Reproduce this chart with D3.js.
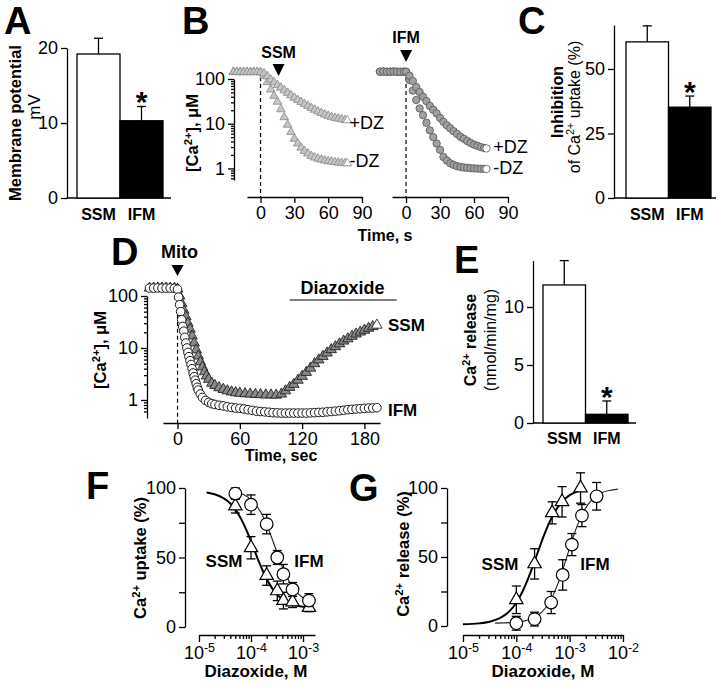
<!DOCTYPE html>
<html>
<head>
<meta charset="utf-8">
<script src="https://cdn.jsdelivr.net/npm/d3@7"></script>
<style>
html,body{margin:0;padding:0;background:#fff;}
svg{display:block;}
</style>
</head>
<body>
<svg id="fig" width="724" height="687"></svg>
<script>
// ================= DATA =================
const barCats = ["SSM", "IFM"];
const potentialMean = [19.2, 10.3];
const potentialErr = [2.1, 1.9];
const inhibitionMean = [60.5, 35.2];
const inhibitionErr = [6.2, 4.3];
const releaseMean = [11.9, 0.75];
const releaseErr = [2.1, 1.15];
const potentialTicks = [0, 10, 20];
const inhibitionTicks = [0, 25, 50];
const releaseTicks = [0, 5, 10];

// Panel B (time in s, [Ca2+] in uM)
const bTimeSSM = [-24,-21,-18,-15,-12,-9,-6,-3,0,3,6,9,12,15,18,21,24,27,30,33,36,39,42,45,48,51,54,57,60,63,66,69,72,75,77];
const bSSMPlusDZ = [144,143,142,143,143,142,144,143,141,134,115,97,84,73,64,56,49,43,38,34,30.5,27.5,25,22.5,20.5,18.8,17.3,16,15,14.2,13.5,13,12.5,12.1,11.9];
const bSSMMinusDZ = [144,143,142,143,143,142,144,143,141,118,85,58,42,31,21,14,9.5,6.5,4.6,3.6,2.9,2.45,2.15,1.9,1.75,1.65,1.57,1.5,1.45,1.42,1.38,1.35,1.33,1.31,1.3];
const bTimeIFM = [-23,-20,-17,-14,-11,-8,-5,-2,0,3,6,9,12,15,18,21,24,27,30,33,36,39,42,45,48,51,54,57,60,63,66,69,71];
const bIFMPlusDZ = [146,147,145,146,147,146,145,146,145,118,90,66,51,40,32,25,20.5,17,13.5,11,9.2,7.9,6.8,5.9,5.1,4.6,4.1,3.7,3.4,3.2,3.0,2.85,2.8];
const bIFMMinusDZ = [146,147,145,146,147,146,145,146,145,95,55,34,22,15.5,10.5,7.1,5.0,3.6,2.6,1.8,1.5,1.3,1.2,1.12,1.08,1.05,1.03,1.01,1.0,0.99,0.98,0.98,0.97];
const logMajorTicks = [1, 10, 100];
const logMinorTicks = [0.6,0.7,0.8,0.9,2,3,4,5,6,7,8,9,20,30,40,50,60,70,80,90];
const bTimeTicks = [0, 30, 60, 90];

// Panel D
const dTimeSSM = [-27,-23,-19,-15,-11,-7,-3,0,2,4,6,8,10,12,14,16,18,20,22,24,26,28,30,33,36,40,44,48,52,56,60,65,70,75,80,85,90,95,100,104,108,112,116,120,124,128,132,136,140,144,148,152,156,160,164,168,172,176,180,184,188,192];
const dSSM = [142,142,143,142,142,142,141,136,100,72,53,40,30,23,17,12.5,9.2,7.0,5.4,4.3,3.5,2.9,2.5,2.1,1.9,1.72,1.6,1.5,1.43,1.38,1.35,1.32,1.3,1.28,1.27,1.25,1.25,1.24,1.3,1.5,1.75,2.0,2.4,2.85,3.4,4.1,5.0,5.9,6.9,8.0,9.3,10.6,12.0,13.6,15.0,16.8,18.6,20.3,22.0,24.0,25.8,27.5];
const dTimeIFM = [-27,-23,-19,-15,-11,-7,-3,0,1,2,3,4,5,6,7,8,9,10,11,12,13,14,15,16,17,18,19,20,22,24,27,30,33,36,40,44,48,52,56,60,64,68,72,76,80,84,88,92,96,100,104,108,112,116,120,124,128,132,136,140,144,148,152,156,160,164,168,172,176,180,184,188,192];
const dIFM = [142,142,143,142,142,142,141,135,95,68,50,35,26,21,16,12.5,10,8.2,6.8,5.7,4.8,4.0,3.3,2.8,2.4,2.05,1.75,1.55,1.3,1.12,0.98,0.9,0.85,0.82,0.79,0.77,0.74,0.72,0.7,0.69,0.67,0.65,0.63,0.61,0.6,0.59,0.58,0.57,0.565,0.56,0.56,0.56,0.56,0.56,0.56,0.56,0.565,0.57,0.575,0.58,0.59,0.6,0.61,0.62,0.635,0.65,0.66,0.67,0.68,0.69,0.7,0.7,0.71];
const dTimeTicks = [0, 60, 120, 180];

// Panel F (diazoxide M, % uptake)
const fConc = [5e-5, 1e-4, 2e-4, 3.2e-4, 4.2e-4, 6.3e-4, 1.3e-3];
const fSSM = [87, 57, 37, 26, 19, 18, 14];
const fSSMErr = [5, 8, 7, 7, 6, 4, 3];
const fIFM = [96, 88, 74, 50, 38, 27, 19];
const fIFMErr = [4, 7, 7, 5, 7, 5, 5];
const fFitSSMConc = [1.4e-5,2e-5,3e-5,4e-5,5e-5,6e-5,7e-5,8e-5,9e-5,1e-4,1.2e-4,1.4e-4,1.7e-4,2e-4,2.5e-4,3e-4,4e-4,5e-4,7e-4,1e-3,1.3e-3];
const fFitSSM = [96.8,95.5,92.6,88.9,84.6,79.9,75.1,70.4,65.9,61.6,53.9,47.5,40.0,34.5,28.3,24.3,20.0,17.8,15.7,14.6,14.2];
const fFitIFMConc = [5e-5,7e-5,1e-4,1.3e-4,1.6e-4,2e-4,2.5e-4,3e-4,3.5e-4,4e-4,5e-4,6e-4,8e-4,1e-3,1.3e-3];
const fFitIFM = [97.3,95.5,91.7,86.9,81.4,73.6,64.2,56.0,49.0,43.4,35.2,29.9,24.0,21.1,19.0];

// Panel G (diazoxide M, % release)
const gConcSSM = [1e-4, 2.2e-4, 4.7e-4, 7.2e-4, 1.6e-3];
const gSSM = [19, 45, 82, 90, 100];
const gSSMErr = [10, 11, 8, 11, 11];
const gConcIFM = [1e-4, 2.2e-4, 4.5e-4, 7.4e-4, 1.1e-3, 1.7e-3, 3.2e-3];
const gIFM = [2, 5, 17, 37, 59, 80, 94];
const gIFMErr = [5, 5, 8, 11, 8, 8, 10];
const gFitSSMConc = [1e-5,2e-5,3e-5,5e-5,7e-5,1e-4,1.3e-4,1.7e-4,2.2e-4,2.8e-4,3.5e-4,4.5e-4,6e-4,8e-4,1e-3,1.3e-3,1.7e-3];
const gFitSSM = [1.2,1.9,2.9,5.8,9.8,16.9,24.8,35.2,46.9,58.3,68.2,77.8,86.1,91.8,94.8,97.1,98.6];
const gFitIFMConc = [4e-5,6e-5,1e-4,1.5e-4,2.2e-4,3e-4,4e-4,5e-4,6e-4,7.5e-4,9e-4,1.1e-3,1.4e-3,1.7e-3,2.2e-3,3e-3,4e-3,5.5e-3,8e-3];
const gFitIFM = [2.1,2.25,2.8,3.9,6.2,10.0,16.1,23.1,30.5,41.3,51.0,61.6,73.1,80.6,88.0,93.5,96.5,98.2,99.2];

const pctTicks = [0, 25, 50, 75, 100];
const pctLabels = [0, 50, 100];
const fMajor = [1e-5, 1e-4, 1e-3];
const fMinor = [2e-5,3e-5,4e-5,5e-5,6e-5,7e-5,8e-5,9e-5,2e-4,3e-4,4e-4,5e-4,6e-4,7e-4,8e-4,9e-4];
const gMajor = [1e-5, 1e-4, 1e-3, 1e-2];
const gMinor = [2e-5,3e-5,4e-5,5e-5,6e-5,7e-5,8e-5,9e-5,2e-4,3e-4,4e-4,5e-4,6e-4,7e-4,8e-4,9e-4,2e-3,3e-3,4e-3,5e-3,6e-3,7e-3,8e-3,9e-3];

// ================= DRAWING =================
const FONT = '"Liberation Sans", Arial, Helvetica, sans-serif';
const svg = d3.select("#fig").attr("font-family", FONT);
svg.append("rect").attr("width", 724).attr("height", 687).attr("fill", "#fff");
const SW = 1.3;
const TICKFS = 18;

function txt(x, y, parts, o = {}) {
  const size = o.size || 16;
  const t = svg.append("text")
    .attr("x", x).attr("y", y)
    .attr("font-size", size)
    .attr("font-weight", o.bold ? "bold" : "normal")
    .attr("text-anchor", o.anchor || "middle")
    .attr("fill", "#000");
  if (o.rotate) t.attr("transform", `rotate(-90,${x},${y})`);
  let up = false;
  (Array.isArray(parts) ? parts : [parts]).forEach(p => {
    const s = typeof p === "string" ? p : p[0];
    const sup = typeof p === "string" ? false : !!p[1];
    const ts = t.append("tspan").text(s);
    if (sup) {
      ts.attr("font-size", size * 0.68);
      if (!up) { ts.attr("dy", -size * 0.38); up = true; }
    } else if (up) { ts.attr("dy", size * 0.38); up = false; }
  });
  return t;
}

function styleAxis(g, fs = TICKFS) {
  g.attr("font-family", FONT).attr("font-size", fs);
  g.selectAll("path.domain").attr("stroke", "#000").attr("stroke-width", SW);
  g.selectAll(".tick line").attr("stroke", "#000").attr("stroke-width", SW);
  g.selectAll(".tick text").attr("fill", "#000");
  return g;
}

function hline(x1, x2, y) {
  return svg.append("line").attr("x1", x1).attr("x2", x2).attr("y1", y).attr("y2", y)
    .attr("stroke", "#000").attr("stroke-width", SW);
}

function letter(x, y, s) { txt(x, y, s, {size: 38, bold: true, anchor: "start"}); }

function barPanel(o) {
  const x = d3.scaleBand().domain(barCats).range(o.band);
  const y = o.y;
  const ax = svg.append("g").attr("transform", `translate(${o.axisX},0)`)
    .call(d3.axisLeft(y).tickValues(o.ticks).tickSize(6).tickSizeOuter(0).tickPadding(3));
  styleAxis(ax);
  hline(o.axisX, o.axisEnd, y(0));
  barCats.forEach((c, i) => {
    const cx = x(c) + x.bandwidth() / 2;
    const top = y(o.mean[i] + o.err[i]);
    svg.append("line").attr("x1", cx).attr("x2", cx).attr("y1", y(o.mean[i])).attr("y2", top)
      .attr("stroke", "#000").attr("stroke-width", SW);
    hline(cx - 4.5, cx + 4.5, top);
    svg.append("rect").attr("x", x(c)).attr("width", x.bandwidth())
      .attr("y", y(o.mean[i])).attr("height", y(0) - y(o.mean[i]))
      .attr("fill", i === 0 ? "#fff" : "#000").attr("stroke", "#000").attr("stroke-width", SW);
    txt(cx, o.labelY, c, {size: o.labelSize, bold: true});
    if (i === 1) txt(cx, top - 11 + 16.8, "*", {size: 30, bold: true});
  });
}

function logYAxis(xPos, y) {
  const a1 = svg.append("g").attr("transform", `translate(${xPos},0)`)
    .call(d3.axisLeft(y).tickValues(logMajorTicks).tickFormat(d3.format("d")).tickSize(6).tickSizeOuter(0).tickPadding(3));
  styleAxis(a1);
  const a2 = svg.append("g").attr("transform", `translate(${xPos},0)`)
    .call(d3.axisLeft(y).tickValues(logMinorTicks).tickFormat("").tickSize(3).tickSizeOuter(0));
  a2.select(".domain").remove();
  styleAxis(a2);
}

// markers; the last point of a trace can be drawn with its own fill (open end marker)
function marks(xs, ys, xS, yS, shape, st) {
  const data = d3.zip(xs, ys);
  const n = data.length;
  const fillOf = (d, i) => (st.lastFill && i === n - 1) ? st.lastFill : st.fill;
  const g = svg.append("g");
  if (shape === "tri") {
    g.selectAll("path").data(data).join("path")
      .attr("d", d3.symbol(d3.symbolTriangle, st.size)())
      .attr("transform", d => `translate(${xS(d[0])},${yS(d[1])})`)
      .attr("fill", fillOf).attr("stroke", st.stroke).attr("stroke-width", st.sw);
  } else {
    g.selectAll("circle").data(data).join("circle")
      .attr("cx", d => xS(d[0])).attr("cy", d => yS(d[1])).attr("r", st.r)
      .attr("fill", fillOf).attr("stroke", st.stroke).attr("stroke-width", st.sw);
  }
  return g;
}

function arrowDown(cx, tipY, w, h) {
  svg.append("path")
    .attr("d", `M${cx - w / 2},${tipY - h}L${cx + w / 2},${tipY - h}L${cx},${tipY}Z`)
    .attr("fill", "#000");
}

function dashed(x, y1, y2) {
  svg.append("line").attr("x1", x).attr("x2", x).attr("y1", y1).attr("y2", y2)
    .attr("stroke", "#000").attr("stroke-width", 1.2).attr("stroke-dasharray", "4,3");
}

// ---------- Panel A ----------
letter(4, 34, "A");
barPanel({
  y: d3.scaleLinear().domain([0, 20]).range([198, 48]),
  axisX: 67, axisEnd: 171, band: [77, 163], ticks: potentialTicks,
  mean: potentialMean, err: potentialErr, labelY: 220, labelSize: 16
});
txt(21, 123, "Membrane potential", {size: 16.5, bold: true, rotate: true});
txt(40, 107, "mV", {size: 17, rotate: true});

// ---------- Panel C ----------
letter(518, 34, "C");
barPanel({
  y: d3.scaleLinear().domain([0, 67]).range([198, 25.1]),
  axisX: 614, axisEnd: 716, band: [626, 711], ticks: inhibitionTicks,
  mean: inhibitionMean, err: inhibitionErr, labelY: 220, labelSize: 16
});
txt(563, 102, "Inhibition", {size: 16, bold: true, rotate: true});
txt(580, 107, ["of Ca", ["2+", true], " uptake (%)"], {size: 16, rotate: true});

// ---------- Panel E ----------
letter(454, 273, "E");
barPanel({
  y: d3.scaleLinear().domain([0, 14]).range([423, 260.6]),
  axisX: 533, axisEnd: 636, band: [543, 628], ticks: releaseTicks,
  mean: releaseMean, err: releaseErr, labelY: 444, labelSize: 16
});
txt(476, 340, ["Ca", ["2+", true], " release"], {size: 16, bold: true, rotate: true});
txt(496, 340, "(nmol/min/mg)", {size: 16, rotate: true});

// ---------- Panel B ----------
letter(182, 34, "B");
const yB = d3.scaleLog().domain([0.55, 100]).range([180, 79]);
const xBL = d3.scaleLinear().domain([-12, 90]).range([247, 362]);
const xBR = d3.scaleLinear().domain([-12.4, 90]).range([392, 508]);
logYAxis(234, yB);
[xBL, xBR].forEach(xs => {
  const a = svg.append("g").attr("transform", "translate(0,197)")
    .call(d3.axisBottom(xs).tickValues(bTimeTicks).tickSize(6).tickSizeOuter(0).tickPadding(3));
  styleAxis(a);
});
dashed(xBL(0), yB(160), 197);
dashed(xBR(0), yB(160), 197);
const triB = {size: 32, fill: "#c6c6c6", stroke: "#888", sw: 0.8, lastFill: "#fff"};
marks(bTimeSSM, bSSMMinusDZ, xBL, yB, "tri", triB);
marks(bTimeSSM, bSSMPlusDZ, xBL, yB, "tri", triB);
const cirB = {r: 3.7, fill: "#a0a0a0", stroke: "#555", sw: 0.8, lastFill: "#fff"};
marks(bTimeIFM, bIFMMinusDZ, xBR, yB, "circ", cirB);
marks(bTimeIFM, bIFMPlusDZ, xBR, yB, "circ", cirB);
txt(xBL(16), 58, "SSM", {size: 16, bold: true});
arrowDown(xBL(16), 76, 12, 12);
txt(xBR(0), 43, "IFM", {size: 16, bold: true});
arrowDown(xBR(0), 62, 12, 12);
txt(xBL(79), 129, "+DZ", {size: 18, anchor: "start"});
txt(xBL(79), 167, "-DZ", {size: 18, anchor: "start"});
txt(xBR(77), 153, "+DZ", {size: 18, anchor: "start"});
txt(xBR(77), 174, "-DZ", {size: 18, anchor: "start"});
txt(198, 133, ["[Ca", ["2+", true], "], \u03BCM"], {size: 16.5, bold: true, rotate: true});
txt(385, 241, "Time, s", {size: 16, bold: true});

// ---------- Panel D ----------
letter(111, 265, "D");
const xD = d3.scaleLinear().domain([-14, 195]).range([163, 380]);
const yD = d3.scaleLog().domain([0.45, 100]).range([418, 296]);
logYAxis(147, yD);
const aD = svg.append("g").attr("transform", "translate(0,423)")
  .call(d3.axisBottom(xD).tickValues(dTimeTicks).tickSize(6).tickSizeOuter(0).tickPadding(3));
styleAxis(aD);
dashed(xD(0), yD(150), 423);
marks(dTimeSSM, dSSM, xD, yD, "tri", {size: 48, fill: "#8a8a8a", stroke: "#111", sw: 0.8, lastFill: "#fff"});
marks(dTimeIFM, dIFM, xD, yD, "circ", {r: 4.3, fill: "#fff", stroke: "#1a1a1a", sw: 1});
txt(xD(2), 258, "Mito", {size: 18, bold: true});
arrowDown(xD(0), 276, 12, 11);
txt(xD(159), 294, "Diazoxide", {size: 18, bold: true});
hline(xD(108), xD(211), 300).attr("stroke-width", 1.2);
txt(388, 331, "SSM", {size: 17, bold: true, anchor: "start"});
txt(388, 416, "IFM", {size: 17, bold: true, anchor: "start"});
txt(106, 350, ["[Ca", ["2+", true], "], \u03BCM"], {size: 16.5, bold: true, rotate: true});
txt(281, 461, "Time, sec", {size: 16, bold: true});

// ---------- Dose panels F, G ----------
function dosePanel(o) {
  const x = d3.scaleLog().domain(o.xDomain).range(o.xRange);
  const y = d3.scaleLinear().domain([0, 100]).range(o.yRange);
  const ay = svg.append("g").attr("transform", `translate(${o.axisX},0)`)
    .call(d3.axisLeft(y).tickValues(pctTicks).tickFormat(d => pctLabels.includes(d) ? d : "")
      .tickSize(6).tickSizeOuter(0).tickPadding(3));
  styleAxis(ay);
  const ax = svg.append("g").attr("transform", `translate(0,${o.axisY})`)
    .call(d3.axisBottom(x).tickValues(o.major).tickSize(7).tickSizeOuter(0).tickPadding(4));
  styleAxis(ax);
  ax.selectAll(".tick text").each(function (d) {
    const t = d3.select(this);
    t.text(null);
    t.append("tspan").text("10");
    t.append("tspan").text(String(Math.round(Math.log10(d)))).attr("font-size", 12.5).attr("dy", "-0.55em");
  });
  const am = svg.append("g").attr("transform", `translate(0,${o.axisY})`)
    .call(d3.axisBottom(x).tickValues(o.minor).tickFormat("").tickSize(4).tickSizeOuter(0));
  am.select(".domain").remove();
  styleAxis(am);

  const line = d3.line().x(d => x(d[0])).y(d => y(d[1])).curve(d3.curveMonotoneX);
  svg.append("path").datum(d3.zip(o.fitIFMx, o.fitIFMy)).attr("d", line)
    .attr("fill", "none").attr("stroke", "#222").attr("stroke-width", 1.1);
  svg.append("path").datum(d3.zip(o.fitSSMx, o.fitSSMy)).attr("d", line)
    .attr("fill", "none").attr("stroke", "#000").attr("stroke-width", 2);

  function errs(xs, ys, es) {
    xs.forEach((c, i) => {
      const cx = x(c), y1 = y(ys[i] - es[i]), y2 = y(ys[i] + es[i]);
      svg.append("line").attr("x1", cx).attr("x2", cx).attr("y1", y1).attr("y2", y2)
        .attr("stroke", "#000").attr("stroke-width", SW);
      hline(cx - 4.5, cx + 4.5, y1);
      hline(cx - 4.5, cx + 4.5, y2);
    });
  }
  errs(o.ssmX, o.ssmY, o.ssmE);
  errs(o.ifmX, o.ifmY, o.ifmE);
  marks(o.ssmX, o.ssmY, x, y, "tri", {size: 78, fill: "#fff", stroke: "#000", sw: 1.2});
  marks(o.ifmX, o.ifmY, x, y, "circ", {r: 6.3, fill: "#fff", stroke: "#000", sw: 1.2});
}

letter(86, 499, "F");
dosePanel({
  xDomain: [1e-5, 1.7e-3], xRange: [199, 315], yRange: [627, 488], axisX: 185, axisY: 635,
  major: fMajor, minor: fMinor,
  fitSSMx: fFitSSMConc, fitSSMy: fFitSSM, fitIFMx: fFitIFMConc, fitIFMy: fFitIFM,
  ssmX: fConc, ssmY: fSSM, ssmE: fSSMErr, ifmX: fConc, ifmY: fIFM, ifmE: fIFMErr
});
txt(224, 567, "SSM", {size: 17, bold: true});
txt(309, 567, "IFM", {size: 17, bold: true});
txt(146, 558, ["Ca", ["2+", true], " uptake (%)"], {size: 16.5, bold: true, rotate: true});
txt(256, 677, "Diazoxide, M", {size: 17, bold: true});

letter(349, 501, "G");
dosePanel({
  xDomain: [1e-5, 1e-2], xRange: [463, 623], yRange: [626, 488], axisX: 447, axisY: 635,
  major: gMajor, minor: gMinor,
  fitSSMx: gFitSSMConc, fitSSMy: gFitSSM, fitIFMx: gFitIFMConc, fitIFMy: gFitIFM,
  ssmX: gConcSSM, ssmY: gSSM, ssmE: gSSMErr, ifmX: gConcIFM, ifmY: gIFM, ifmE: gIFMErr
});
txt(500, 570, "SSM", {size: 17, bold: true});
txt(595, 570, "IFM", {size: 17, bold: true});
txt(409, 554, ["Ca", ["2+", true], " release (%)"], {size: 16.5, bold: true, rotate: true});
txt(543, 677, "Diazoxide, M", {size: 17, bold: true});
</script>
</body>
</html>
